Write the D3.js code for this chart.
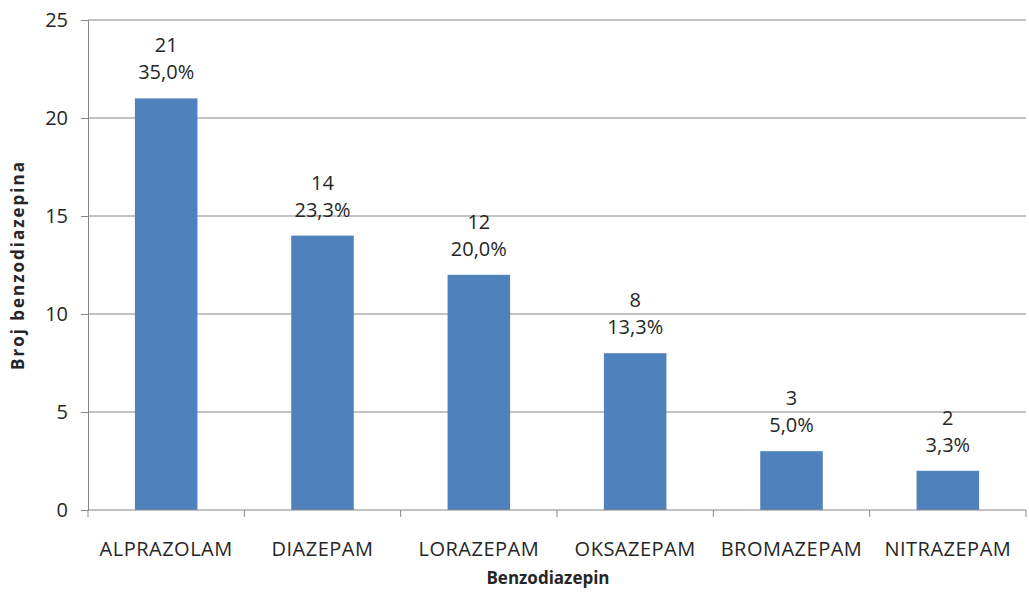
<!DOCTYPE html>
<html>
<head>
<meta charset="utf-8">
<script src="https://cdn.jsdelivr.net/npm/d3@7"></script>
<style>
body { margin: 0; background: #fff; }
text { font-family: "Open Sans", sans-serif; fill: #262626; }
</style>
</head>
<body>
<svg id="chart" width="1029" height="592"></svg>
<script>
let categories = ["ALPRAZOLAM", "DIAZEPAM", "LORAZEPAM", "OKSAZEPAM", "BROMAZEPAM", "NITRAZEPAM"];
let counts = [21, 14, 12, 8, 3, 2];
let percents = ["35,0%", "23,3%", "20,0%", "13,3%", "5,0%", "3,3%"];
let yTicks = [0, 5, 10, 15, 20, 25];

let plotLeft = 88, plotRight = 1026, plotTop = 20, plotBottom = 510;

let svg = d3.select("#chart");

let x = d3.scaleBand()
    .domain(categories)
    .range([plotLeft, plotRight])
    .paddingInner(0.6)
    .paddingOuter(0.3);

let y = d3.scaleLinear()
    .domain([0, 25])
    .range([plotBottom, plotTop]);

// gridlines
svg.append("g").selectAll("line")
    .data(yTicks.filter(d => d > 0))
    .join("line")
    .attr("x1", plotLeft)
    .attr("x2", plotRight)
    .attr("y1", d => y(d))
    .attr("y2", d => y(d))
    .attr("stroke", "#868686")
    .attr("stroke-width", 1);

// y axis
let yAxis = svg.append("g")
    .attr("transform", "translate(" + plotLeft + ",0)")
    .call(d3.axisLeft(y).tickValues(yTicks).tickSize(7).tickPadding(13));
yAxis.select(".domain").attr("stroke", "#868686");
yAxis.selectAll(".tick line").attr("stroke", "#868686");
yAxis.selectAll("text")
    .style("font-family", "Open Sans")
    .style("font-size", "20px")
    .attr("fill", "#262626");

// bars
svg.append("g").selectAll("rect")
    .data(counts)
    .join("rect")
    .attr("x", (d, i) => x(categories[i]))
    .attr("y", d => y(d))
    .attr("width", x.bandwidth())
    .attr("height", d => y(0) - y(d))
    .attr("fill", "#4f81bd");

// x axis
let step = (plotRight - plotLeft) / categories.length;
svg.append("line")
    .attr("x1", plotLeft).attr("x2", plotRight)
    .attr("y1", plotBottom).attr("y2", plotBottom)
    .attr("stroke", "#868686");
svg.append("g").selectAll("line")
    .data(d3.range(categories.length + 1))
    .join("line")
    .attr("x1", i => plotLeft + i * step)
    .attr("x2", i => plotLeft + i * step)
    .attr("y1", plotBottom)
    .attr("y2", plotBottom + 7)
    .attr("stroke", "#868686");

svg.append("g").selectAll("text")
    .data(categories)
    .join("text")
    .attr("x", d => x(d) + x.bandwidth() / 2)
    .attr("y", 556)
    .attr("text-anchor", "middle")
    .style("font-size", "20px")
    .style("letter-spacing", "0.5px")
    .text(d => d);

// value labels
svg.append("g").selectAll("text")
    .data(counts)
    .join("text")
    .attr("x", (d, i) => x(categories[i]) + x.bandwidth() / 2)
    .attr("y", d => y(d) - 46)
    .attr("text-anchor", "middle")
    .style("font-size", "20px")
    .text(d => d);
svg.append("g").selectAll("text")
    .data(percents)
    .join("text")
    .attr("x", (d, i) => x(categories[i]) + x.bandwidth() / 2)
    .attr("y", (d, i) => y(counts[i]) - 19)
    .attr("text-anchor", "middle")
    .style("font-size", "20px")
    .text(d => d);

// axis titles
svg.append("text")
    .attr("x", 548)
    .attr("y", 584)
    .attr("text-anchor", "middle")
    .style("font-size", "17px")
    .style("font-weight", "bold")
    .text("Benzodiazepin");
svg.append("text")
    .attr("transform", "translate(24," + ((plotTop + plotBottom) / 2) + ") rotate(-90)")
    .attr("text-anchor", "middle")
    .style("font-size", "17px")
    .style("font-weight", "bold")
    .style("letter-spacing", "2px")
    .text("Broj benzodiazepina");
</script>
</body>
</html>
